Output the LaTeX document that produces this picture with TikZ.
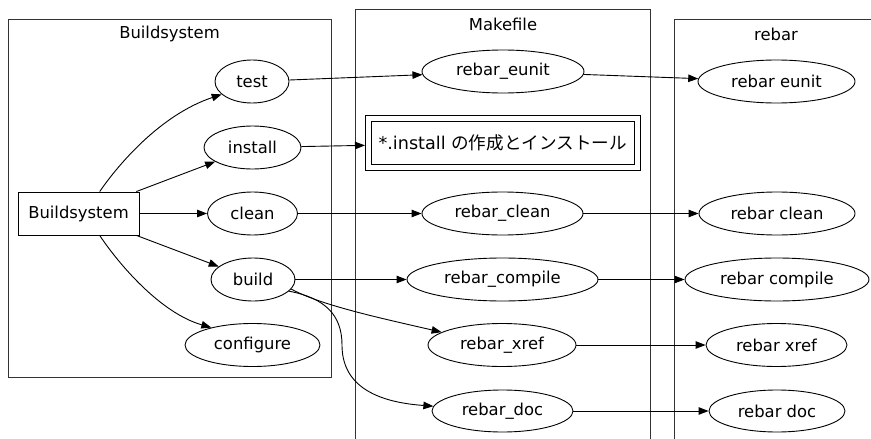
\documentclass[tikz,border=0pt]{standalone}
\usepackage{fontspec}
\setmainfont{DejaVu Sans}
\newfontfamily\cjkfont{Noto Sans CJK JP}
\usetikzlibrary{shapes.geometric,arrows.meta,calc}

\begin{document}
\begin{tikzpicture}[x=1pt,y=-1pt,
  every node/.style={font=\fontsize{16.4}{19}\selectfont},
  ell/.style={draw, ellipse, inner sep=0pt, line width=0.9pt, minimum height=43pt},
  rectbox/.style={draw, rectangle, inner sep=0pt, line width=0.9pt},
  flow/.style={line width=0.9pt, -{Triangle[length=10pt,width=7.5pt]}},
  cluster/.style={line width=1pt, draw=black!80},
  clabel/.style={inner sep=0pt}
]
\useasboundingbox (0,0) rectangle (871,439);

% clusters
\draw[cluster] (8,19) rectangle (331,377);
\node[clabel] (lbs) at (169.5,34) {Buildsystem};
\draw[cluster] (355,439) -- (355,9) -- (650,9) -- (650,439);
\node[clabel] (lmk) at (503,24) {Makefile};
\draw[cluster] (674,439) -- (674,19) -- (871,19);
\node[clabel] (lrb) at (776,34) {rebar};

% Buildsystem targets
\node[rectbox, minimum width=121pt, minimum height=43pt] (bs) at (78.5,213.5) {Buildsystem};
\node[ell, minimum width=74pt] (test) at (252,81.5) {test};
\node[ell, minimum width=97pt] (install) at (252.5,147.5) {install};
\node[ell, minimum width=90pt] (clean) at (252.5,213.5) {clean};
\node[ell, minimum width=84pt] (build) at (253,279.5) {build};
\node[ell, minimum width=135pt] (conf) at (252.5,345) {configure};

% Makefile targets
\node[ell, minimum width=162pt] (meunit) at (503,71.5) {rebar\_eunit};
% install rule: a box with a doubled border (outer sep reaches the outer frame)
\node[rectbox, outer sep=6pt, minimum width=263.5pt, minimum height=43.5pt,
      font=\fontsize{17.6}{20}\selectfont] (minst) at (502.75,142.75)
      {*.install {\cjkfont の作成とインストール}};
\draw[line width=0.9pt] ($(minst.north west)+(0.5,0.5)$) rectangle ($(minst.south east)+(-0.5,-0.5)$);
\node[ell, minimum width=161pt] (mclean) at (502.5,213.5) {rebar\_clean};
\node[ell, minimum width=191pt] (mcomp) at (502.5,279.5) {rebar\_compile};
\node[ell, minimum width=148pt] (mxref) at (502,345) {rebar\_xref};
\node[ell, minimum width=141pt, minimum height=42pt] (mdoc) at (502.5,411) {rebar\_doc};

% rebar commands
\node[ell, minimum width=157pt] (reunit) at (776.5,81.5) {rebar eunit};
\node[ell, minimum width=156pt] (rclean) at (777,213.5) {rebar clean};
\node[ell, minimum width=184pt] (rcomp) at (777,279.5) {rebar compile};
\node[ell, minimum width=141pt] (rxref) at (776.5,345) {rebar xref};
\node[ell, minimum width=136pt, minimum height=42pt] (rdoc) at (777,411) {rebar doc};

% Buildsystem -> targets
\draw[flow] (bs.46) .. controls (118,165) and (160,115) .. (test.203);
\draw[flow] (bs) -- (install);
\draw[flow] (bs) -- (clean);
\draw[flow] (bs) -- (build);
\draw[flow] (bs.-46) .. controls (118,263) and (160,313) .. (conf.157);

% targets -> Makefile rules
\draw[flow] (test) -- (meunit);
\draw[flow] (install) -- (minst);
\draw[flow] (clean) -- (mclean);
\draw[flow] (build) -- (mcomp);
\draw[flow] (build.-14) .. controls (320,305) and (380,318) .. (mxref.168);
\draw[flow] (build.-18) .. controls (325,298) and (342,315) .. (342,345)
  .. controls (342,385) and (375,402) .. (mdoc.176);

% Makefile rules -> rebar
\draw[flow] (meunit) -- (reunit);
\draw[flow] (mclean) -- (rclean);
\draw[flow] (mcomp) -- (rcomp);
\draw[flow] (mxref) -- (rxref);
\draw[flow] (mdoc) -- (rdoc);
\end{tikzpicture}
\end{document}
